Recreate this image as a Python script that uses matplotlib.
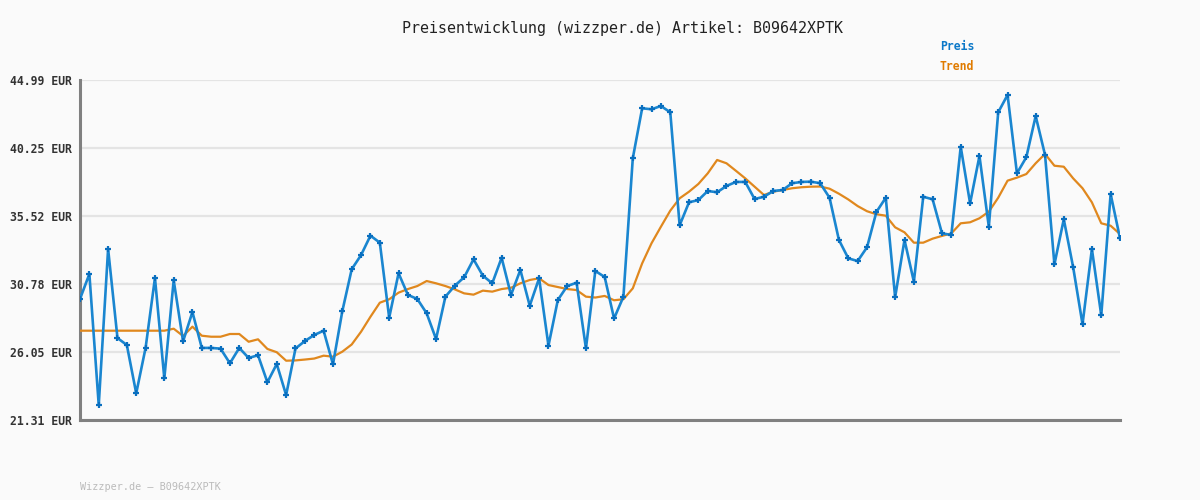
import numpy as np
import matplotlib
matplotlib.use('Agg')
import matplotlib.pyplot as plt

# Preis per Messpunkt (EUR)
preis = [
    29.74, 31.48, 22.35, 33.22, 27.02, 26.53, 23.17, 26.33, 31.20, 24.21,
    31.04, 26.79, 28.83, 26.33, 26.33, 26.28, 25.26, 26.33, 25.63, 25.82,
    23.94, 25.21, 23.05, 26.29, 26.81, 27.23, 27.53, 25.19, 28.90, 31.81,
    32.80, 34.15, 33.66, 28.44, 31.53, 30.02, 29.74, 28.74, 26.95, 29.90,
    30.66, 31.25, 32.50, 31.36, 30.83, 32.61, 30.02, 31.76, 29.27, 31.18,
    26.49, 29.67, 30.64, 30.87, 26.30, 31.69, 31.27, 28.38, 29.90, 39.54,
    43.02, 42.95, 43.18, 42.74, 34.87, 36.47, 36.63, 37.26, 37.17, 37.61,
    37.89, 37.89, 36.70, 36.86, 37.26, 37.33, 37.80, 37.89, 37.91, 37.80,
    36.79, 33.85, 32.57, 32.38, 33.34, 35.80, 36.79, 29.86, 33.85, 30.94,
    36.86, 36.68, 34.31, 34.20, 40.34, 36.40, 39.70, 34.77, 42.74, 43.95,
    38.49, 39.61, 42.48, 39.77, 32.15, 35.29, 31.95, 27.98, 33.22, 28.60,
    37.05, 33.97,
]

# Trendlinie (EUR)
trend = [
    27.53, 27.53, 27.53, 27.53, 27.53, 27.53, 27.53, 27.53, 27.53, 27.53,
    27.67, 27.16, 27.81, 27.18, 27.11, 27.11, 27.30, 27.30, 26.76, 26.93,
    26.26, 26.03, 25.44, 25.46, 25.52, 25.59, 25.79, 25.72, 26.07, 26.57,
    27.46, 28.50, 29.48, 29.72, 30.18, 30.43, 30.64, 30.99, 30.83, 30.64,
    30.41, 30.13, 30.04, 30.32, 30.25, 30.43, 30.52, 30.83, 31.06, 31.18,
    30.71, 30.57, 30.43, 30.36, 29.90, 29.84, 29.95, 29.65, 29.72, 30.48,
    32.22, 33.62, 34.77, 35.89, 36.75, 37.21, 37.75, 38.49, 39.42, 39.19,
    38.67, 38.14, 37.56, 36.98, 37.21, 37.33, 37.45, 37.52, 37.56, 37.57,
    37.42, 37.07, 36.67, 36.21, 35.85, 35.64, 35.54, 34.73, 34.38, 33.66,
    33.66, 33.94, 34.13, 34.31, 35.01, 35.08, 35.36, 35.82, 36.79, 37.98,
    38.19, 38.44, 39.19, 39.84, 39.02, 38.95, 38.14, 37.45, 36.47, 35.01,
    34.84, 34.26,
]

y_ticks = [21.31, 26.05, 30.78, 35.52, 40.25, 44.99]
y_labels = ['21.31 EUR', '26.05 EUR', '30.78 EUR', '35.52 EUR', '40.25 EUR', '44.99 EUR']

artikel = 'B09642XPTK'

BG = '#fafafa'
BLUE = '#1a86d0'
ORANGE = '#e0881e'
MONO = 'DejaVu Sans Mono'

fig = plt.figure(figsize=(12, 5), dpi=100, facecolor=BG)
ax = fig.add_axes([80 / 1200, 80 / 500, 1040 / 1200, 340 / 500])
ax.set_facecolor(BG)

x = np.arange(len(preis))

ax.set_yticks(y_ticks)
ax.set_yticklabels(y_labels, fontfamily=MONO, fontweight='bold', fontsize=8.3, color='#333333')
ax.yaxis.grid(True, color='#e4e4e4', linewidth=1.6)
ax.set_axisbelow(True)
ax.tick_params(axis='y', length=0, pad=5.5)
ax.set_xticks([])

ax.plot(x, trend, color=ORANGE, linewidth=1.6, zorder=3)
ax.plot(x, preis, color=BLUE, linewidth=1.9, marker='+', markersize=4,
        markeredgewidth=1.6, markeredgecolor='#0a6fbf', zorder=4)

ax.set_xlim(0, len(preis) - 1)
ax.set_ylim(y_ticks[0], y_ticks[-1])

for side in ['top', 'right']:
    ax.spines[side].set_visible(False)
for side in ['left', 'bottom']:
    ax.spines[side].set_color('#808080')
    ax.spines[side].set_linewidth(2.2)

fig.text(623 / 1200, 1 - 28 / 500, f'Preisentwicklung (wizzper.de) Artikel: {artikel}',
         ha='center', va='center', fontfamily=MONO, fontsize=10.8, color='#222222')
fig.text(940 / 1200, 1 - 47 / 500, 'Preis', ha='left', va='center',
         fontfamily=MONO, fontweight='bold', fontsize=8.3, color='#0b78c8')
fig.text(940 / 1200, 1 - 67 / 500, 'Trend', ha='left', va='center',
         fontfamily=MONO, fontweight='bold', fontsize=8.3, color='#e07b00')
fig.text(80 / 1200, 1 - 487 / 500, f'Wizzper.de \u2013 {artikel}', ha='left', va='center',
         fontfamily=MONO, fontsize=7.3, color='#bbbbbb')

plt.savefig('out.png', dpi=100, facecolor=BG)
plt.close()
